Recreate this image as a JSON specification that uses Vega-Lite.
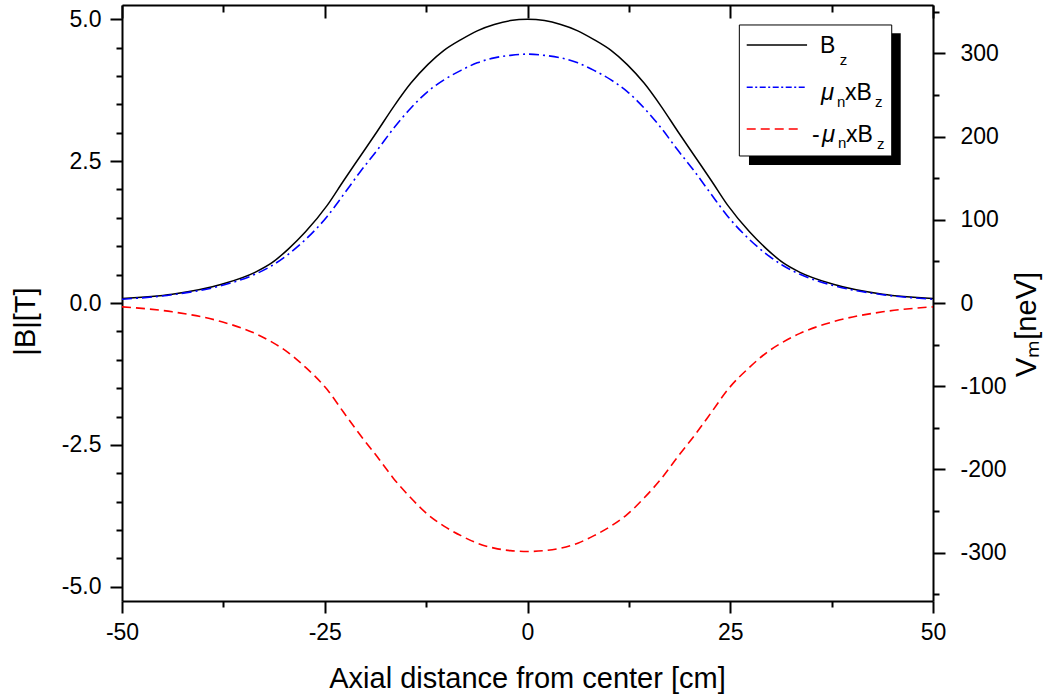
{
  "$schema": "https://vega.github.io/schema/vega-lite/v6.json",
  "width": 811,
  "height": 596,
  "autosize": {"type": "none"},
  "padding": {"left": 122, "top": 5, "right": 118, "bottom": 96},
  "background": "white",
  "config": {
    "view": {"stroke": null},
    "font": "Liberation Sans",
    "axis": {
      "grid": false,
      "domainColor": "black",
      "domainWidth": 2,
      "tickColor": "black",
      "tickWidth": 2,
      "labelColor": "black",
      "titleColor": "black",
      "labelFont": "Liberation Sans",
      "titleFont": "Liberation Sans",
      "labelFontSize": 23,
      "titleFontSize": 29,
      "titleFontWeight": "normal",
      "labelOverlap": false,
      "labelFlush": false
    },
    "text": {"font": "Liberation Sans", "color": "black"}
  },
  "datasets": {
    "curve": [
      {"z": -50, "B": 0.08, "V": 4.5, "Vn": -4.6},
      {"z": -43.8, "B": 0.155, "V": 10, "Vn": -10.6},
      {"z": -37.7, "B": 0.33, "V": 21, "Vn": -22.5},
      {"z": -33.6, "B": 0.54, "V": 34.5, "Vn": -36.5},
      {"z": -31.5, "B": 0.71, "V": 45, "Vn": -47},
      {"z": -29.5, "B": 0.95, "V": 58.5, "Vn": -59.5},
      {"z": -27.4, "B": 1.25, "V": 76, "Vn": -77},
      {"z": -24.7, "B": 1.72, "V": 104, "Vn": -104},
      {"z": -22.7, "B": 2.15, "V": 130, "Vn": -131},
      {"z": -20.6, "B": 2.59, "V": 158, "Vn": -159},
      {"z": -18.5, "B": 3.03, "V": 184, "Vn": -185},
      {"z": -16.5, "B": 3.46, "V": 210, "Vn": -211},
      {"z": -14.4, "B": 3.87, "V": 234, "Vn": -234},
      {"z": -12.3, "B": 4.2, "V": 254, "Vn": -254},
      {"z": -10.3, "B": 4.45, "V": 268, "Vn": -268},
      {"z": -8.2, "B": 4.64, "V": 279.5, "Vn": -279.5},
      {"z": -6.2, "B": 4.795, "V": 288.5, "Vn": -288.5},
      {"z": -4.1, "B": 4.905, "V": 294.5, "Vn": -294.5},
      {"z": -2.1, "B": 4.975, "V": 297.5, "Vn": -297.5},
      {"z": 0, "B": 5.0, "V": 299, "Vn": -298.5},
      {"z": 2.1, "B": 4.975, "V": 297.5, "Vn": -297.5},
      {"z": 4.1, "B": 4.905, "V": 294.5, "Vn": -294.5},
      {"z": 6.2, "B": 4.795, "V": 288.5, "Vn": -288.5},
      {"z": 8.2, "B": 4.64, "V": 279.5, "Vn": -279.5},
      {"z": 10.3, "B": 4.45, "V": 268, "Vn": -268},
      {"z": 12.3, "B": 4.2, "V": 254, "Vn": -254},
      {"z": 14.4, "B": 3.87, "V": 234, "Vn": -234},
      {"z": 16.5, "B": 3.46, "V": 210, "Vn": -211},
      {"z": 18.5, "B": 3.03, "V": 184, "Vn": -185},
      {"z": 20.6, "B": 2.59, "V": 158, "Vn": -159},
      {"z": 22.7, "B": 2.15, "V": 130, "Vn": -131},
      {"z": 24.7, "B": 1.72, "V": 104, "Vn": -104},
      {"z": 27.4, "B": 1.25, "V": 76, "Vn": -77},
      {"z": 29.5, "B": 0.95, "V": 58.5, "Vn": -59.5},
      {"z": 31.5, "B": 0.71, "V": 45, "Vn": -47},
      {"z": 33.6, "B": 0.54, "V": 34.5, "Vn": -36.5},
      {"z": 37.7, "B": 0.33, "V": 21, "Vn": -22.5},
      {"z": 43.8, "B": 0.155, "V": 10, "Vn": -10.6},
      {"z": 50, "B": 0.08, "V": 4.5, "Vn": -4.6}
    ]
  },
  "layer": [
    {
      "data": {"name": "curve"},
      "mark": {"type": "line", "color": "black", "strokeWidth": 1.5, "interpolate": "monotone"},
      "encoding": {
        "x": {
          "field": "z", "type": "quantitative",
          "scale": {"domain": [-50, 50], "nice": false, "zero": false},
          "axis": {
            "orient": "bottom",
            "values": [-50, -37.5, -25, -12.5, 0, 12.5, 25, 37.5, 50],
            "labelExpr": "abs(round(datum.value * 2)) % 50 === 0 ? '' + datum.value : ''",
            "tickSize": {"condition": {"test": "abs(round(datum.value * 2)) % 50 === 0", "value": 12}, "value": 6},
            "labelPadding": 8,
            "title": "Axial distance from center [cm]",
            "titleX": 405,
            "titleY": 86,
            "titleBaseline": "alphabetic",
            "titleAlign": "center"
          }
        },
        "y": {
          "field": "B", "type": "quantitative",
          "scale": {"domain": [-5.25, 5.25], "nice": false, "zero": false},
          "axis": {
            "orient": "left",
            "values": [-5, -4.5, -4, -3.5, -3, -2.5, -2, -1.5, -1, -0.5, 0, 0.5, 1, 1.5, 2, 2.5, 3, 3.5, 4, 4.5, 5],
            "labelExpr": "abs(round(datum.value * 2)) % 5 === 0 ? replace(format(datum.value, '.1f'), '\u2212', '-') : ''",
            "tickSize": {"condition": {"test": "abs(round(datum.value * 2)) % 5 === 0", "value": 12}, "value": 6},
            "labelPadding": 9,
            "title": "|B|[T]",
            "titleX": -88,
            "titleY": 316,
            "titleAngle": -90,
            "titleBaseline": "alphabetic",
            "titleAlign": "center"
          }
        }
      }
    },
    {
      "data": {"name": "curve"},
      "layer": [
        {
          "mark": {"type": "line", "color": "#0000ff", "strokeWidth": 1.6, "strokeDash": [10, 4, 2, 4], "interpolate": "monotone"},
          "encoding": {
            "x": {
              "field": "z", "type": "quantitative",
              "scale": {"domain": [-50, 50], "nice": false, "zero": false},
              "axis": {
                "orient": "top",
                "values": [-50, -37.5, -25, -12.5, 0, 12.5, 25, 37.5, 50],
                "labels": false,
                "tickSize": {"condition": {"test": "abs(round(datum.value * 2)) % 50 === 0", "value": -13}, "value": -7},
                "title": null
              }
            },
            "y": {
              "field": "V", "type": "quantitative",
              "scale": {"domain": [-358, 358], "nice": false, "zero": false},
              "axis": {
                "orient": "right",
                "values": [-350, -300, -250, -200, -150, -100, -50, 0, 50, 100, 150, 200, 250, 300, 350],
                "labelExpr": "abs(round(datum.value)) % 100 === 0 ? '' + datum.value : ''",
                "tickSize": {"condition": {"test": "abs(round(datum.value)) % 100 === 0", "value": 12}, "value": 6},
                "labelPadding": 15,
                "title": "Vₘ[neV]",
                "titleX": 102,
                "titleY": 319,
                "titleAngle": -90,
                "titleBaseline": "alphabetic",
                "titleAlign": "center"
              }
            }
          }
        },
        {
          "mark": {"type": "line", "color": "#ff0000", "strokeWidth": 1.6, "strokeDash": [9, 5], "interpolate": "monotone"},
          "encoding": {
            "x": {
              "field": "z", "type": "quantitative",
              "scale": {"domain": [-50, 50], "nice": false, "zero": false},
              "axis": {
                "orient": "top",
                "values": [-50, -37.5, -25, -12.5, 0, 12.5, 25, 37.5, 50],
                "labels": false,
                "tickSize": {"condition": {"test": "abs(round(datum.value * 2)) % 50 === 0", "value": -13}, "value": -7},
                "title": null
              }
            },
            "y": {
              "field": "Vn", "type": "quantitative",
              "scale": {"domain": [-358, 358], "nice": false, "zero": false},
              "axis": {
                "orient": "right",
                "values": [-350, -300, -250, -200, -150, -100, -50, 0, 50, 100, 150, 200, 250, 300, 350],
                "labelExpr": "abs(round(datum.value)) % 100 === 0 ? '' + datum.value : ''",
                "tickSize": {"condition": {"test": "abs(round(datum.value)) % 100 === 0", "value": 12}, "value": 6},
                "labelPadding": 15,
                "title": "Vₘ[neV]",
                "titleX": 102,
                "titleY": 319,
                "titleAngle": -90,
                "titleBaseline": "alphabetic",
                "titleAlign": "center"
              }
            }
          }
        }
      ]
    },
    {
      "data": {"values": [{}]},
      "layer": [
        {
          "mark": {"type": "rect", "fill": "black"},
          "encoding": {
            "x": {"datum": 27.31, "axis": null},
            "x2": {"datum": 46.02},
            "y": {"datum": 4.751, "axis": null, "scale": {"domain": [-5.25, 5.25], "nice": false, "zero": false}},
            "y2": {"datum": 2.431}
          }
        },
        {
          "mark": {"type": "rect", "fill": "white", "stroke": "black", "strokeWidth": 1},
          "encoding": {
            "x": {"datum": 26.12, "axis": null},
            "x2": {"datum": 44.91},
            "y": {"datum": 4.898, "axis": null, "scale": {"domain": [-5.25, 5.25], "nice": false, "zero": false}},
            "y2": {"datum": 2.59}
          }
        },
        {
          "mark": {"type": "rule", "color": "black", "strokeWidth": 1.5},
          "encoding": {"x": {"datum": 27.03, "axis": null}, "x2": {"datum": 34.47}, "y": {"datum": 4.545, "axis": null}}
        },
        {
          "mark": {"type": "rule", "color": "#0000ff", "strokeWidth": 1.6, "strokeDash": [6, 2.5, 2, 2.5]},
          "encoding": {"x": {"datum": 27.03, "axis": null}, "x2": {"datum": 34.47}, "y": {"datum": 3.8, "axis": null}}
        },
        {
          "mark": {"type": "rule", "color": "#ff0000", "strokeWidth": 1.6, "strokeDash": [9, 5]},
          "encoding": {"x": {"datum": 27.03, "axis": null}, "x2": {"datum": 33.6}, "y": {"datum": 3.065, "axis": null}}
        },
        {
          "mark": {"type": "text", "text": "B", "fontSize": 23, "align": "left", "baseline": "alphabetic"},
          "encoding": {"x": {"datum": 36.07, "axis": null}, "y": {"datum": 4.399, "axis": null}}
        },
        {
          "mark": {"type": "text", "text": "z", "fontSize": 15, "align": "left", "baseline": "alphabetic"},
          "encoding": {"x": {"datum": 38.5, "axis": null}, "y": {"datum": 4.193, "axis": null}}
        },
        {
          "mark": {"type": "text", "text": "μ", "fontSize": 24, "fontStyle": "italic", "align": "left", "baseline": "alphabetic"},
          "encoding": {"x": {"datum": 36.2, "axis": null}, "y": {"datum": 3.576, "axis": null}}
        },
        {
          "mark": {"type": "text", "text": "n", "fontSize": 15, "align": "left", "baseline": "alphabetic"},
          "encoding": {"x": {"datum": 38.16, "axis": null}, "y": {"datum": 3.453, "axis": null}}
        },
        {
          "mark": {"type": "text", "text": "xB", "fontSize": 23, "align": "left", "baseline": "alphabetic"},
          "encoding": {"x": {"datum": 39.15, "axis": null}, "y": {"datum": 3.576, "axis": null}}
        },
        {
          "mark": {"type": "text", "text": "z", "fontSize": 15, "align": "left", "baseline": "alphabetic"},
          "encoding": {"x": {"datum": 42.85, "axis": null}, "y": {"datum": 3.453, "axis": null}}
        },
        {
          "mark": {"type": "text", "text": "-", "fontSize": 23, "align": "left", "baseline": "alphabetic"},
          "encoding": {"x": {"datum": 35.08, "axis": null}, "y": {"datum": 2.836, "axis": null}}
        },
        {
          "mark": {"type": "text", "text": "μ", "fontSize": 24, "fontStyle": "italic", "align": "left", "baseline": "alphabetic"},
          "encoding": {"x": {"datum": 36.3, "axis": null}, "y": {"datum": 2.836, "axis": null}}
        },
        {
          "mark": {"type": "text", "text": "n", "fontSize": 15, "align": "left", "baseline": "alphabetic"},
          "encoding": {"x": {"datum": 38.29, "axis": null}, "y": {"datum": 2.731, "axis": null}}
        },
        {
          "mark": {"type": "text", "text": "xB", "fontSize": 23, "align": "left", "baseline": "alphabetic"},
          "encoding": {"x": {"datum": 39.27, "axis": null}, "y": {"datum": 2.836, "axis": null}}
        },
        {
          "mark": {"type": "text", "text": "z", "fontSize": 15, "align": "left", "baseline": "alphabetic"},
          "encoding": {"x": {"datum": 43.1, "axis": null}, "y": {"datum": 2.713, "axis": null}}
        }
      ]
    }
  ],
  "resolve": {"scale": {"y": "independent"}, "axis": {"x": "independent"}}
}
